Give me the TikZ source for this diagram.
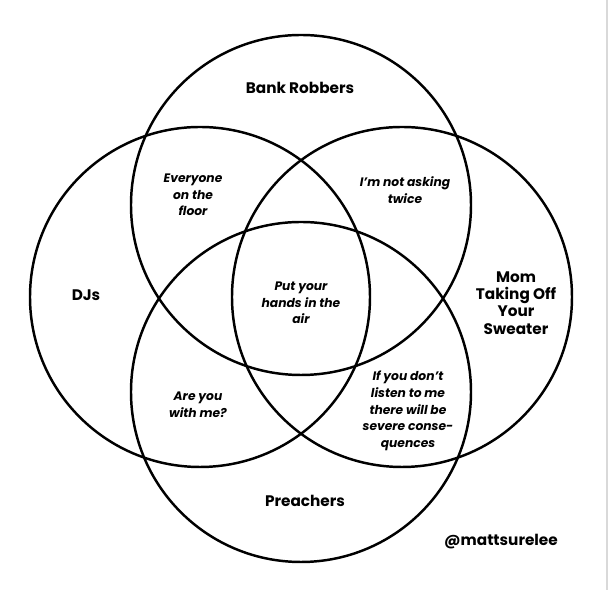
\documentclass[tikz,border=0pt]{standalone}
\usepackage{fontspec}
\setmainfont{Poppins}
\tikzset{
  ring/.style={line width=1.4pt},
  setname/.style={align=center,inner sep=0pt,font=\bfseries\fontsize{8.7}{9.9}\selectfont},
  overlap/.style={align=center,inner sep=0pt,font=\bfseries\itshape\fontsize{7}{9.5}\selectfont}
}
\begin{document}
\begin{tikzpicture}[x=0.02cm,y=-0.02cm]
\useasboundingbox (0,0) rectangle (610,590);
\draw[black!15,line width=0.6pt] (607,0)--(607,590);
\coordinate (T) at (301,205);
\coordinate (L) at (200,297);
\coordinate (R) at (402,297);
\coordinate (B) at (301,392);
\draw[ring] (T) circle (170);
\draw[ring] (L) circle (170);
\draw[ring] (R) circle (170);
\draw[ring] (B) circle (170);
% set names
\node[setname] (bank) at (300,88) {Bank Robbers};
\node[setname] (djs) at (86,295) {DJs};
\node[setname] (mom) at (516,303) {Mom\\Taking Off\\Your\\Sweater};
\node[setname] (preach) at (305,501) {Preachers};
\node[setname] (tag) at (501,542) {@mattsurelee};
% overlaps
\node[overlap] (floor) at (193,195) {Everyone\\on the\\floor};
\node[overlap] (twice) at (405,190) {I’m not asking\\twice};
\node[overlap] (hands) at (301,303) {Put your\\hands in the\\air};
\node[overlap] (withme) at (198,405) {Are you\\with me?};
\node[overlap] (listen) at (408,411) {If you don’t\\listen to me\\there will be\\severe conse-\\quences};
\end{tikzpicture}
\end{document}
